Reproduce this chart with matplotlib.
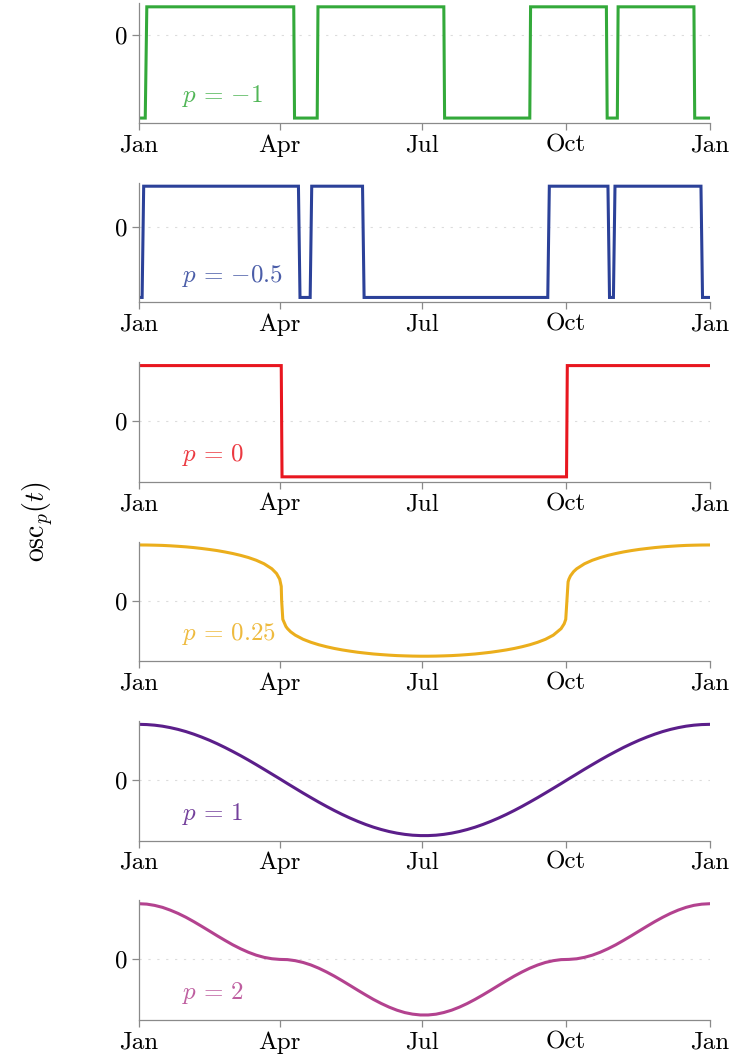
import numpy as np
import matplotlib
matplotlib.use("Agg")
import matplotlib.pyplot as plt

plt.rcParams["font.family"] = ["cmr10", "DejaVu Serif"]
plt.rcParams["mathtext.fontset"] = "cm"
plt.rcParams["axes.formatter.use_mathtext"] = True

GREEN = "#33A93A"
BLUE = "#2B4199"
RED = "#E8161F"
YELLOW = "#EBAE1C"
PURPLE = "#5B1E8A"
MAGENTA = "#B3428F"

month_days = [0, 90, 181, 273, 365]
month_names = ["Jan", "Apr", "Jul", "Oct", "Jan"]

# p = -1 : square wave with the switching days
pm1_days = [0, 4, 5, 99, 99.5, 114, 114.5, 195, 195.5, 250, 250.5, 299, 299.5,
            306, 306.5, 355, 355.5, 365]
pm1_vals = [-2.95, -2.95, 1, 1, -2.95, -2.95, 1, 1, -2.95, -2.95, 1, 1, -2.95,
            -2.95, 1, 1, -2.95, -2.95]

# p = -0.5
pm05_days = [0, 2, 3, 102, 103, 109.5, 110.5, 143, 144, 261.5, 262.5, 300, 301,
             303.5, 304.5, 359.5, 360.5, 365]
pm05_vals = [-1.7, -1.7, 1, 1, -1.7, -1.7, 1, 1, -1.7, -1.7, 1, 1, -1.7,
             -1.7, 1, 1, -1.7, -1.7]

# p = 0
p0_days = [0, 91, 91.5, 273.5, 274, 365]
p0_vals = [1, 1, -1, -1, 1, 1]

# p = 0.25
p025_days = [0, 5, 10, 15, 20, 25, 30, 35, 40, 45, 50, 55, 60, 65, 70, 75, 80, 85,
             88, 90, 91, 91.25, 92, 94, 95, 97, 100, 105, 110, 115, 120, 125, 130,
             135, 140, 145, 150, 155, 160, 165, 170, 175, 180, 185, 190, 195, 200,
             205, 210, 215, 220, 225, 230, 235, 240, 245, 250, 255, 260, 265, 270,
             272, 273, 273.75, 274.5, 275, 276, 278, 280, 285, 290, 295, 300, 305,
             310, 315, 320, 325, 330, 335, 340, 345, 350, 355, 360, 365]
p025_vals = [1.000, 0.999, 0.996, 0.992, 0.985, 0.976, 0.966, 0.953, 0.937, 0.919,
             0.899, 0.874, 0.846, 0.813, 0.774, 0.725, 0.662, 0.572,
             0.486, 0.385, 0.256, 0.0, -0.337, -0.466, -0.504, -0.561, -0.622,
             -0.696, -0.750, -0.794, -0.830, -0.861, -0.887,
             -0.909, -0.929, -0.945, -0.960, -0.971, -0.981, -0.989, -0.994, -0.998,
             -1.000, -1.000, -0.998, -0.994, -0.989,
             -0.981, -0.971, -0.960, -0.945, -0.929, -0.909, -0.887, -0.861, -0.830,
             -0.794, -0.750, -0.696, -0.622, -0.505,
             -0.417, -0.337, 0.0, 0.337, 0.383, 0.444, 0.520, 0.572, 0.662, 0.725,
             0.773, 0.813, 0.846,
             0.875, 0.899, 0.920, 0.937, 0.953, 0.966, 0.976, 0.985, 0.992, 0.996,
             0.999, 1.000]

# p = 1 and p = 2 share the same sampling days
smooth_days = [0, 5, 10, 15, 20, 25, 30, 35, 40, 45, 50, 55, 60, 65, 70, 75, 80,
               85, 90, 95, 100, 105, 110, 115, 120, 125, 130, 135, 140, 145, 150,
               155, 160, 165, 170, 175, 180, 185, 190, 195, 200, 205, 210, 215, 220,
               225, 230, 235, 240, 245, 250, 255, 260, 265, 270, 275, 280, 285, 290,
               295, 300, 305, 310, 315, 320, 325, 330, 335, 340, 345, 350, 355, 360,
               365]
p1_vals = [1.000, 0.996, 0.985, 0.967, 0.941, 0.909, 0.870, 0.824, 0.772, 0.715,
           0.652, 0.584, 0.512, 0.437, 0.358, 0.276, 0.192,
           0.107, 0.022, -0.065, -0.150, -0.235, -0.317, -0.398, -0.475, -0.549,
           -0.619, -0.684, -0.744, -0.799, -0.848,
           -0.890, -0.926, -0.955, -0.977, -0.992, -0.999, -0.999, -0.992, -0.977,
           -0.955, -0.926, -0.890, -0.848, -0.799,
           -0.744, -0.684, -0.619, -0.549, -0.475, -0.397, -0.317, -0.234, -0.150,
           -0.065, 0.022, 0.107, 0.193, 0.276,
           0.358, 0.437, 0.512, 0.585, 0.652, 0.715, 0.772, 0.824, 0.870, 0.909,
           0.941, 0.967, 0.985, 0.996,
           1.000]
p2_vals = [1.000, 0.993, 0.970, 0.935, 0.885, 0.826, 0.757, 0.679, 0.596, 0.511,
           0.425, 0.342, 0.262, 0.191, 0.128, 0.076, 0.037,
           0.012, 0.000, -0.004, -0.023, -0.055, -0.100, -0.158, -0.226, -0.301,
           -0.383, -0.468, -0.554, -0.638, -0.719,
           -0.792, -0.857, -0.912, -0.955, -0.983, -0.998, -0.998, -0.984, -0.954,
           -0.912, -0.857, -0.792, -0.718, -0.638,
           -0.554, -0.468, -0.383, -0.301, -0.226, -0.158, -0.101, -0.055, -0.023,
           -0.004, 0.000, 0.011, 0.037, 0.076,
           0.128, 0.191, 0.262, 0.342, 0.425, 0.511, 0.596, 0.679, 0.756, 0.826,
           0.886, 0.935, 0.971, 0.992,
           1.000]

series = [
    (pm1_days, pm1_vals, GREEN, r"$p\,=\,{-1}$"),
    (pm05_days, pm05_vals, BLUE, r"$p\,=\,{-0.5}$"),
    (p0_days, p0_vals, RED, r"$p\,=\,0$"),
    (p025_days, p025_vals, YELLOW, r"$p\,=\,0.25$"),
    (smooth_days, p1_vals, PURPLE, r"$p\,=\,1$"),
    (smooth_days, p2_vals, MAGENTA, r"$p\,=\,2$"),
]

fig, axs = plt.subplots(nrows=6, ncols=1, figsize=(7.3, 10.55), dpi=100)
fig.subplots_adjust(left=0.1904, right=0.972, top=0.9967, bottom=0.0332, hspace=0.5)

for ax, (days, vals, color, label) in zip(axs, series):
    ax.axhline(0, color="#dcdcdc", lw=0.8, ls=(0, (2, 6)), zorder=0)
    ax.plot(days, vals, color=color, lw=2.2, solid_joinstyle="miter")
    lo, hi = min(vals), max(vals)
    r = hi - lo
    ax.set_ylim(lo - 0.045 * r, hi + 0.03 * r)
    ax.set_xlim(0, 365)
    ax.set_xticks(month_days)
    ax.set_xticklabels(month_names)
    ax.set_yticks([0])
    ax.set_yticklabels(["0"])
    for side in ["top", "right"]:
        ax.spines[side].set_visible(False)
    for side in ["left", "bottom"]:
        ax.spines[side].set_color("#8a8a8a")
        ax.spines[side].set_linewidth(0.9)
    ax.tick_params(axis="both", direction="out", length=5, width=0.9,
                   color="#8a8a8a", labelsize=18, pad=3)
    ax.text(0.075, 0.225, label, transform=ax.transAxes, color=color, alpha=0.85,
            fontsize=18, va="center", ha="left")

fig.supylabel(r"$\mathrm{osc}_p(t)$", x=0.028, y=0.506, fontsize=20)

fig.savefig("out.png", dpi=100)
